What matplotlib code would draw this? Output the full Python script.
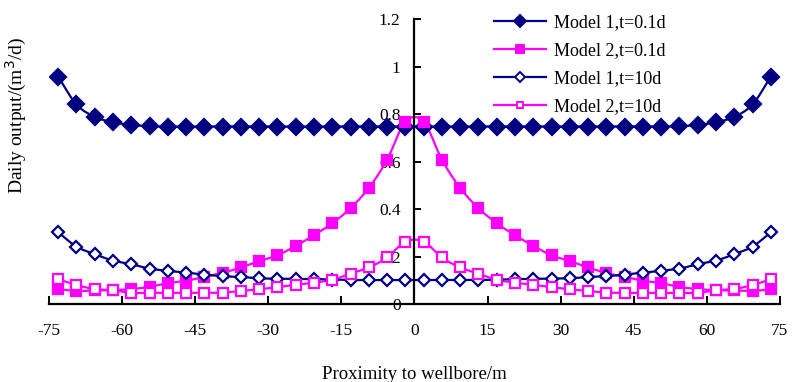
import numpy as np
import matplotlib
matplotlib.use("Agg")
import matplotlib.pyplot as plt
from matplotlib.ticker import FuncFormatter

plt.rcParams['font.family'] = ['Liberation Serif', 'DejaVu Serif']
plt.rcParams['axes.unicode_minus'] = False

# distance of each grid cell from the wellbore (m)
dist = [-73.125, -69.375, -65.625, -61.875, -58.125, -54.375, -50.625, -46.875,
        -43.125, -39.375, -35.625, -31.875, -28.125, -24.375, -20.625, -16.875,
        -13.125, -9.375, -5.625, -1.875,
        1.875, 5.625, 9.375, 13.125, 16.875, 20.625, 24.375, 28.125,
        31.875, 35.625, 39.375, 43.125, 46.875, 50.625, 54.375, 58.125,
        61.875, 65.625, 69.375, 73.125]

m1_t01 = [0.958, 0.841, 0.789, 0.766, 0.755, 0.749, 0.748, 0.748, 0.748, 0.748,
          0.748, 0.748, 0.748, 0.748, 0.748, 0.748, 0.748, 0.748, 0.748, 0.748,
          0.748, 0.748, 0.748, 0.748, 0.748, 0.748, 0.748, 0.748, 0.748, 0.748,
          0.748, 0.748, 0.748, 0.748, 0.749, 0.755, 0.766, 0.789, 0.841, 0.958]

m2_t01 = [0.062, 0.055, 0.057, 0.058, 0.063, 0.072, 0.088, 0.098, 0.114, 0.131,
          0.154, 0.181, 0.205, 0.245, 0.290, 0.340, 0.404, 0.489, 0.608, 0.768,
          0.768, 0.608, 0.489, 0.404, 0.340, 0.290, 0.245, 0.205, 0.181, 0.154,
          0.131, 0.114, 0.098, 0.088, 0.072, 0.063, 0.058, 0.057, 0.055, 0.062]

m1_t10 = [0.302, 0.242, 0.210, 0.183, 0.168, 0.149, 0.140, 0.132, 0.124, 0.117,
          0.114, 0.108, 0.107, 0.106, 0.105, 0.103, 0.101, 0.101, 0.101, 0.101,
          0.101, 0.101, 0.101, 0.101, 0.103, 0.105, 0.106, 0.107, 0.108, 0.114,
          0.117, 0.124, 0.132, 0.140, 0.149, 0.168, 0.183, 0.210, 0.242, 0.302]

m2_t10 = [0.104, 0.080, 0.063, 0.058, 0.047, 0.047, 0.047, 0.047, 0.047, 0.048,
          0.055, 0.062, 0.071, 0.081, 0.090, 0.102, 0.128, 0.154, 0.196, 0.263,
          0.263, 0.196, 0.154, 0.128, 0.102, 0.090, 0.081, 0.071, 0.062, 0.055,
          0.048, 0.047, 0.047, 0.047, 0.047, 0.047, 0.058, 0.063, 0.080, 0.104]

labels = ['Model 1,t=0.1d', 'Model 2,t=0.1d', 'Model 1,t=10d', 'Model 2,t=10d']

navy = '#000080'
magenta = '#FF00FF'


def smooth(x, y, n=12):
    # catmull-rom curve through the points, like excel's smoothed line
    x = np.asarray(x, float)
    y = np.asarray(y, float)
    px = np.concatenate([[2 * x[0] - x[1]], x, [2 * x[-1] - x[-2]]])
    py = np.concatenate([[2 * y[0] - y[1]], y, [2 * y[-1] - y[-2]]])
    t = np.linspace(0, 1, n, endpoint=False)
    xs, ys = [], []
    for i in range(1, len(px) - 2):
        for p, out in ((px, xs), (py, ys)):
            p0, p1, p2, p3 = p[i - 1], p[i], p[i + 1], p[i + 2]
            out.extend(0.5 * (2 * p1 + (p2 - p0) * t
                              + (2 * p0 - 5 * p1 + 4 * p2 - p3) * t ** 2
                              + (3 * p1 - p0 - 3 * p2 + p3) * t ** 3))
    xs.append(x[-1])
    ys.append(y[-1])
    return xs, ys


fig = plt.figure(figsize=(7.92, 3.82), dpi=100)
ax = fig.add_axes([0.0619, 0.2042, 0.9229, 0.7453])

series = [
    (m1_t01, navy, 'D', navy, 8),
    (m2_t01, magenta, 's', magenta, 7.5),
    (m1_t10, navy, 'D', 'white', 6.5),
    (m2_t10, magenta, 's', 'white', 6.5),
]
for (vals, col, mk, face, ms), lab in zip(series, labels):
    sx, sy = smooth(dist, vals)
    ax.plot(sx, sy, color=col, lw=1.6, zorder=2)
    ax.plot(dist, vals, linestyle='none', marker=mk, ms=ms, mfc=face,
            mec=col, mew=1.6, zorder=3)
    ax.plot([], [], color=col, lw=1.6, marker=mk, ms=ms * 0.75, mfc=face,
            mec=col, mew=1.4, label=lab)

ax.set_xlim(-75, 75)
ax.set_ylim(0, 1.2)
ax.set_xticks(np.arange(-75, 76, 15))
ax.set_yticks([0, 0.2, 0.4, 0.6, 0.8, 1.0, 1.2])
ax.yaxis.set_major_formatter(FuncFormatter(lambda v, p: f'{v:g}'))

for s in ['top', 'right']:
    ax.spines[s].set_visible(False)
ax.spines['left'].set_position(('data', 0))
ax.spines['left'].set_linewidth(1.6)
ax.spines['bottom'].set_linewidth(1.6)

ax.tick_params(axis='x', direction='in', length=6, width=1.4, pad=14,
               labelsize=12.5)
ax.tick_params(axis='y', direction='in', length=5, width=1.4, pad=10,
               labelsize=12.5)

ax.set_xlabel('Proximity to wellbore/m', fontsize=13.5, labelpad=19)
ax.set_ylabel('Daily output/(m$^3$/d)', fontsize=14)
ax.yaxis.set_label_coords(-0.027, 0.664)

ax.legend(loc='upper left', bbox_to_anchor=(0.6237, 0.962),
          bbox_transform=fig.transFigure, frameon=False, fontsize=13,
          handlelength=2.9, handletextpad=0.45, labelspacing=0.6,
          borderpad=0, borderaxespad=0)

fig.savefig('out.png', dpi=100)
